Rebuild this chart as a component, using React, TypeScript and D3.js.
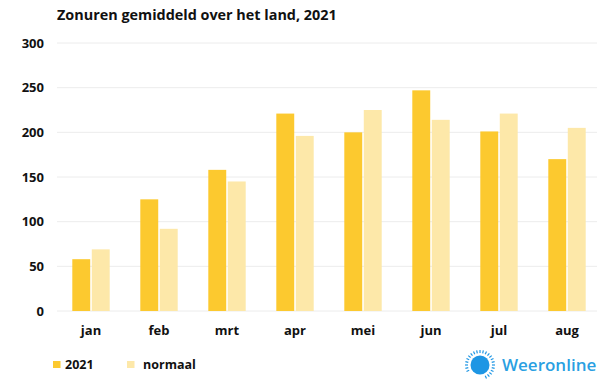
import { useEffect, useRef } from 'react';
import * as d3 from 'd3';

// Zonuren per maand (uren)
const months = ['jan', 'feb', 'mrt', 'apr', 'mei', 'jun', 'jul', 'aug'];
const values2021 = [58, 125, 158, 221, 200, 247, 201, 170];
const valuesNormaal = [69, 92, 145, 196, 225, 214, 221, 205];
const yTicks = [0, 50, 100, 150, 200, 250, 300];
const seriesNames = ['2021', 'normaal'];

const COLOR_2021 = '#fcc92f';
const COLOR_NORMAAL = '#fde8a9';
const FONT = '"Open Sans", "Noto Sans", sans-serif';

export default function App(): JSX.Element {
  const svgRef = useRef<SVGSVGElement>(null);

  useEffect(() => {
    if (!svgRef.current) return;
    const svg = d3.select(svgRef.current);
    svg.selectAll('*').remove();

    const width = 600;
    const height = 387;

    svg.append('rect').attr('width', width).attr('height', height).attr('fill', '#fff');

    // Scales
    const x = d3.scaleBand<string>()
      .domain(months)
      .range([57, 601])
      .paddingInner(0.45)
      .paddingOuter(0.225);

    const xInner = d3.scaleBand<string>()
      .domain(seriesNames)
      .range([0, x.bandwidth()])
      .paddingInner(0.08);

    const y = d3.scaleLinear().domain([0, 300]).range([311, 43]);

    // Title
    svg.append('text')
      .attr('x', 57)
      .attr('y', 20)
      .style('font-family', FONT)
      .style('font-weight', 700)
      .style('font-size', '14.4px')
      .attr('fill', '#111')
      .text('Zonuren gemiddeld over het land, 2021');

    // Grid lines
    svg.append('g')
      .selectAll('line')
      .data(yTicks)
      .enter()
      .append('line')
      .attr('x1', 57)
      .attr('x2', 597)
      .attr('y1', d => y(d))
      .attr('y2', d => y(d))
      .attr('stroke', '#ececec')
      .attr('stroke-width', 1);

    // Y labels
    svg.append('g')
      .selectAll('text')
      .data(yTicks)
      .enter()
      .append('text')
      .attr('x', 44)
      .attr('y', d => y(d))
      .attr('dy', '0.35em')
      .attr('text-anchor', 'end')
      .style('font-family', FONT)
      .style('font-weight', 700)
      .style('font-size', '13px')
      .attr('fill', '#111')
      .text(d => d);

    // Bars
    const series = [values2021, valuesNormaal];
    const colors = [COLOR_2021, COLOR_NORMAAL];
    series.forEach((vals, si) => {
      svg.append('g')
        .selectAll('rect')
        .data(vals)
        .enter()
        .append('rect')
        .attr('x', (_, i) => (x(months[i]) || 0) + (xInner(seriesNames[si]) || 0))
        .attr('y', d => y(d))
        .attr('width', xInner.bandwidth())
        .attr('height', d => y(0) - y(d))
        .attr('fill', colors[si]);
    });

    // Month labels
    svg.append('g')
      .selectAll('text')
      .data(months)
      .enter()
      .append('text')
      .attr('x', d => (x(d) || 0) + x.bandwidth() / 2)
      .attr('y', 335)
      .attr('text-anchor', 'middle')
      .style('font-family', FONT)
      .style('font-weight', 700)
      .style('font-size', '13px')
      .attr('fill', '#111')
      .text(d => d);

    // Legend
    const legend = svg.append('g');
    const legendX = [53, 127];
    const legendTextX = [65, 143];
    seriesNames.forEach((name, i) => {
      legend.append('rect')
        .attr('x', legendX[i])
        .attr('y', 361)
        .attr('width', 7.5)
        .attr('height', 7)
        .attr('fill', colors[i]);
      legend.append('text')
        .attr('x', legendTextX[i])
        .attr('y', 369)
        .style('font-family', FONT)
        .style('font-weight', 700)
        .style('font-size', '12.5px')
        .attr('fill', '#111')
        .text(name);
    });

    // Weeronline logo
    const logo = svg.append('g').attr('transform', 'translate(480,365)');
    logo.append('circle').attr('r', 9.5).attr('fill', '#1e96e4');
    const rays = d3.range(0, 28);
    logo.selectAll('line')
      .data(rays)
      .enter()
      .append('line')
      .filter(d => d < 6 || d > 11)
      .attr('x1', d => Math.cos((d / 28) * 2 * Math.PI) * 12)
      .attr('y1', d => Math.sin((d / 28) * 2 * Math.PI) * 12)
      .attr('x2', d => Math.cos((d / 28) * 2 * Math.PI) * 15)
      .attr('y2', d => Math.sin((d / 28) * 2 * Math.PI) * 15)
      .attr('stroke', '#1e96e4')
      .attr('stroke-width', 1.2);
    svg.append('text')
      .attr('x', 502)
      .attr('y', 371)
      .style('font-family', FONT)
      .style('font-weight', 600)
      .style('font-size', '17px')
      .attr('fill', '#2a9fe2')
      .text('Weeronline');
  }, []);

  return (
    <svg
      ref={svgRef}
      width={600}
      height={387}
      style={{ position: 'absolute', left: 0, top: 0 }}
    />
  );
}
